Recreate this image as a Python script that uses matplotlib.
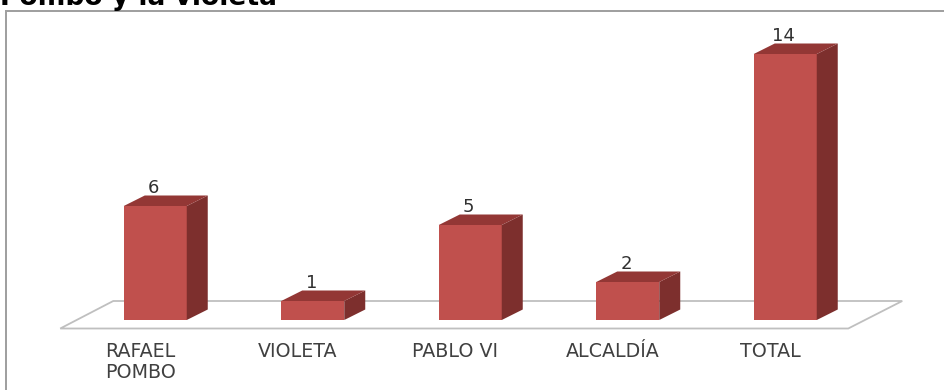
import matplotlib
matplotlib.use("Agg")
from matplotlib import pyplot as plt
from matplotlib.patches import Polygon, Rectangle

title = "Pombo y la violeta"
categorias = ["RAFAEL\nPOMBO", "VIOLETA", "PABLO VI", "ALCALDÍA", "TOTAL"]
valores = [6, 1, 5, 2, 14]

W, H = 944, 390
paso = 157.5      # px between bars
px_valor = 19.0   # px per unit
x0 = 155.25       # px of first bar centre
y0 = 320.0        # px from top of the bar base

ancho = 63 / paso
dx = 21 / paso    # 3d depth, data units
dy = 10.5 / px_valor

FRENTE = "#c0504d"
LADO = "#7d2f2d"
TAPA = "#933735"
GRIS = "#404040"

# dpi 72 so that 1 pt is 1 px
fig = plt.figure(figsize=(W / 72, H / 72), dpi=72, facecolor="white")
ax = fig.add_axes([0, 0, 1, 1])
ax.set_xlim(-x0 / paso, (W - x0) / paso)
ax.set_ylim(-(H - y0) / px_valor, y0 / px_valor)
ax.axis("off")

# marco
fig.add_artist(Rectangle((6 / W, -0.05), 1.1, 1 - 11 / H + 0.05, transform=fig.transFigure,
                         fill=False, edgecolor="#a0a0a0", linewidth=2))

# piso
n = len(valores)
suelo_y = -8.5 / px_valor
izq = -95 / paso
der = n - 1 + 63 / paso
ax.add_patch(Polygon([(izq, suelo_y), (der, suelo_y), (der + 54 / paso, suelo_y + 27.5 / px_valor),
                      (izq + 53 / paso, suelo_y + 27.5 / px_valor)],
                     closed=True, facecolor="white", edgecolor="#bfbfbf", linewidth=1.8, zorder=1))

# barras
for i, v in enumerate(valores):
    l = i - ancho / 2
    r = i + ancho / 2
    ax.bar(i, v, width=ancho, color=FRENTE, zorder=3)
    ax.add_patch(Polygon([(r, 0), (r + dx, dy), (r + dx, v + dy), (r, v)], color=LADO, lw=0, zorder=3))
    ax.add_patch(Polygon([(l, v), (r, v), (r + dx, v + dy), (l + dx, v + dy)], color=TAPA, lw=0, zorder=3))
    ax.annotate(str(v), (i, v), xytext=(-1.5, 18), textcoords="offset points", ha="center", va="center",
                fontsize=18, color="#303030", zorder=4)
    ax.annotate(categorias[i], (i, 0), xytext=(-15, -22), textcoords="offset points", ha="center", va="top",
                fontsize=19, color=GRIS, linespacing=1.1, zorder=4)

fig.text(0, 1 - 5 / H, title, fontsize=26.5, fontweight="bold", family="DejaVu Sans", color="black", va="baseline")

fig.savefig("out.png", dpi=72)
